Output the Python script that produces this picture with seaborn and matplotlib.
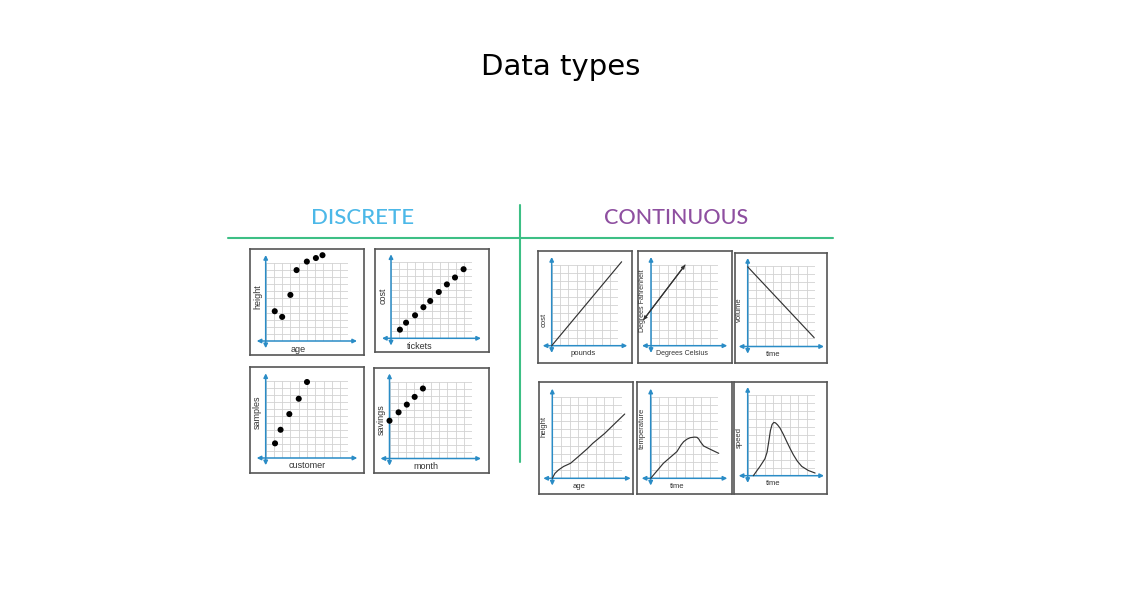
import numpy as np
import matplotlib
matplotlib.use("Agg")
import matplotlib.pyplot as plt
from matplotlib.lines import Line2D
import seaborn as sns

sns.set_style("white")
plt.rcParams['font.family'] = ['Lato', 'DejaVu Sans']

# ---------------- data ----------------
title = "Data types"
left_header = "DISCRETE"
right_header = "CONTINUOUS"

# discrete panels (scatter)
age_x = [1.1, 2.0, 3.0, 3.75, 5.0, 6.1, 6.9]
height_y = [4.2, 3.4, 6.5, 10.0, 11.2, 11.7, 12.1]

tickets_x = [1.1, 1.86, 2.97, 4.0, 4.84, 5.9, 6.9, 7.9, 8.96]
cost_y = [1.25, 2.26, 3.33, 4.5, 5.4, 6.7, 7.8, 8.8, 10.0]

customer_x = [1.13, 1.8, 2.86, 4.0, 5.0]
samples_y = [2.1, 4.05, 6.3, 8.5, 10.9]

month_x = [0.0, 1.1, 2.1, 3.05, 4.05]
savings_y = [5.4, 6.6, 7.7, 8.8, 10.0]

# continuous panels (lines)
pounds_x = [0.0, 8.4]
cost2_y = [0.0, 10.4]

celsius_x = [-0.9, 4.05]
fahrenheit_y = [3.2, 10.0]

time_x = [0.0, 7.9]
volume_y = [9.9, 1.1]

age2_x = [0, 0.3, 0.71, 1.3, 2.1, 3.1, 4.08, 4.67, 6.05, 7.24, 8.35]
height2_y = [0, 0.6, 1.02, 1.45, 1.84, 2.75, 3.67, 4.29, 5.51, 6.74, 7.88]

time2_x = [0, 1.5, 3.1, 3.6, 3.9, 4.3, 4.68, 5.2, 5.48, 5.7, 5.87, 6.26, 7.06, 8.05]
temperature_y = [0, 1.84, 3.27, 4.1, 4.49, 4.8, 4.98, 5.05, 5.02, 4.8, 4.49, 3.96, 3.55, 3.06]

time3_x = [0.67, 1.46, 2.05, 2.3, 2.5, 2.7, 2.9, 3.1, 3.3, 3.55, 3.85, 4.25, 4.64, 5.05, 5.43, 5.9, 6.43, 7.2, 8.01]
speed_y = [0, 1.15, 2.1, 2.9, 4.2, 5.6, 6.35, 6.6, 6.55, 6.3, 5.89, 5.1, 4.23, 3.35, 2.59, 1.8, 1.15, 0.65, 0.33]

# ---------------- figure ----------------
W, H = 1121, 597
fig = plt.figure(figsize=(W / 100, H / 100), dpi=100)
fig.patch.set_facecolor('white')

BLUE = '#2a8cc6'
GRID = '#d2d2d2'
BOX = '#555555'
GREEN = '#3dbf85'


def rect(x0, y0, x1, y1):
    return [x0 / W, 1 - y1 / H, (x1 - x0) / W, (y1 - y0) / H]


def fx(x):
    return x / W


def fy(y):
    return 1 - y / H


fig.text(fx(561), fy(67), title, ha='center', va='center', fontsize=21, color='black',
         family=['DejaVu Sans'])
fig.text(fx(363), fy(218.5), left_header, ha='center', va='center', fontsize=16,
         color='#4cb8e8', fontweight='medium')
fig.text(fx(676), fy(218.5), right_header, ha='center', va='center', fontsize=15.5,
         color='#8e4fa0', fontweight='medium')

fig.add_artist(Line2D([fx(228), fx(833)], [fy(238.3), fy(238.3)], color=GREEN, lw=1.5))
fig.add_artist(Line2D([fx(520), fx(520)], [fy(205), fy(462)], color=GREEN, lw=1.5))

panels = [
    # box, grid, cols, rows, x, y, kind, xlabel, ylabel, xlab pos, ylab pos, fontsize
    ((250, 249, 364, 355), (265.7, 263, 348, 341), 10, 11, age_x, height_y, 'scatter', 'age', 'height', 298, 297, 6.5),
    ((375, 249, 489, 352), (391, 262.3, 472, 338.3), 10, 11, tickets_x, cost_y, 'scatter', 'tickets', 'cost', 420, 296, 6.5),
    ((250, 367, 364, 473), (265.7, 381.3, 348.3, 458), 10, 11, customer_x, samples_y, 'scatter', 'customer', 'samples', 307, 412, 6.5),
    ((374, 368, 489, 473), (389.5, 381.5, 472, 458.5), 10, 11, month_x, savings_y, 'scatter', 'month', 'savings', 426, 420, 6.5),
    ((538, 251, 631.5, 362.5), (551.7, 265, 618.3, 345.7), 8, 10, pounds_x, cost2_y, 'line', 'pounds', 'cost', 583, 320, 5.5),
    ((638, 251, 731.5, 362.5), (651, 265, 718.3, 345.7), 8, 10, celsius_x, fahrenheit_y, 'arrow', 'Degrees Celsius', 'Degrees Fahrenheit', 682, 301, 5.0),
    ((735, 252.5, 827, 362.5), (747.7, 266, 815, 346.5), 8, 10, time_x, volume_y, 'line', 'time', 'volume', 773, 310, 5.5),
    ((539, 381.7, 633, 494), (552.3, 396.7, 621.7, 478.3), 8, 10, age2_x, height2_y, 'line', 'age', 'height', 579, 426, 5.5),
    ((636.7, 381.7, 731.7, 494), (650.7, 396.7, 718.3, 478.3), 8, 10, time2_x, temperature_y, 'line', 'time', 'temperature', 677, 428, 5.5),
    ((734, 381.7, 826.7, 494), (747.7, 395, 815, 475.7), 8, 10, time3_x, speed_y, 'line', 'time', 'speed', 773, 437, 5.5),
]

for (box, grid, nc, nr, xs, ys, kind, xl, yl, xlp, ylp, fs) in panels:
    bax = fig.add_axes(rect(*box))
    bax.set_xticks([])
    bax.set_yticks([])
    bax.set_facecolor('white')
    for s in bax.spines.values():
        s.set_color(BOX)
        s.set_linewidth(1.2)

    ax = fig.add_axes(rect(*grid))
    ax.set_facecolor('none')
    ax.set_xlim(0, nc)
    ax.set_ylim(0, nr)
    ax.set_xticks(np.arange(0, nc + 1))
    ax.set_yticks(np.arange(0, nr + 1))
    ax.grid(True, color=GRID, lw=0.6)
    ax.tick_params(length=0, labelbottom=False, labelleft=False)
    for s in ax.spines.values():
        s.set_visible(False)

    gw = grid[2] - grid[0]
    gh = grid[3] - grid[1]
    ex = 9.0 / gw
    ey = 8.0 / gh
    ap = dict(arrowstyle='<|-|>', color=BLUE, lw=1.1, mutation_scale=6, shrinkA=0, shrinkB=0)
    ax.annotate('', xy=(1 + ex, 0), xytext=(-ex, 0), xycoords='axes fraction',
                arrowprops=ap, annotation_clip=False)
    ax.annotate('', xy=(0, 1 + ey), xytext=(0, -ey * 0.9), xycoords='axes fraction',
                arrowprops=ap, annotation_clip=False)

    if kind == 'scatter':
        sns.scatterplot(x=xs, y=ys, ax=ax, color='black', s=19, edgecolor='none',
                        clip_on=False, zorder=5, legend=False)
    else:
        sns.lineplot(x=xs, y=ys, ax=ax, sort=False, color='#333333', lw=0.85,
                     clip_on=False, zorder=5, legend=False)
        if kind == 'arrow':
            ax.annotate('', xy=(xs[-1], ys[-1]), xytext=(xs[0], ys[0]),
                        arrowprops=dict(arrowstyle='<|-|>', color='#333333', lw=0.85,
                                        mutation_scale=5, shrinkA=0, shrinkB=0),
                        annotation_clip=False, zorder=6)
    ax.set_xlabel('')
    ax.set_ylabel('')

    fig.text(fx(xlp), fy(grid[3] + 8), xl, ha='center', va='center', fontsize=fs,
             color='#333333', family=['Liberation Sans', 'DejaVu Sans'])
    fig.text(fx(grid[0] - 8), fy(ylp), yl, ha='center', va='center', fontsize=fs,
             rotation=90, color='#333333', family=['Liberation Sans', 'DejaVu Sans'])

fig.savefig('out.png', dpi=100, facecolor='white')
